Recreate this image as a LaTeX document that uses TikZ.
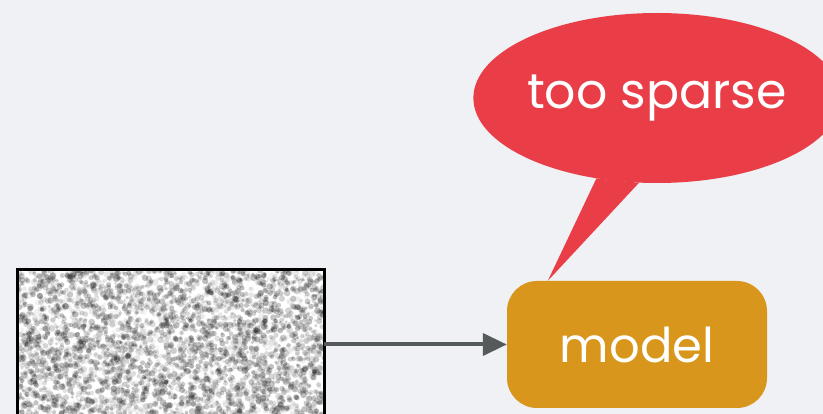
\documentclass[tikz,border=0pt]{standalone}
\usepackage{fontspec}
\setmainfont{Poppins}
\usetikzlibrary{arrows.meta,shapes.geometric,calc}
\definecolor{slidebg}{HTML}{EFF1F4}
\definecolor{alertred}{HTML}{E93E47}
\definecolor{modelgold}{HTML}{D8971C}
\definecolor{arrowgrey}{HTML}{555B5B}

\begin{document}
\begin{tikzpicture}[x=1pt,y=-1pt,
  model/.style={fill=modelgold,rounded corners=30pt,minimum width=260pt,minimum height=127pt,text=white,font=\fontsize{48}{48}\selectfont},
  bubble/.style={ellipse,fill=alertred,inner sep=0pt,minimum width=338pt,minimum height=170pt,text=white,font=\fontsize{49}{49}\selectfont},
  noisy/.style={fill=white,inner sep=0pt,minimum width=306pt,minimum height=160pt},
  ar/.style={-{Triangle[length=24pt,width=22pt]},draw=arrowgrey,line width=4pt}]

\useasboundingbox (0,0) rectangle (823,414);
\clip (0,0) rectangle (823,414);
\fill[slidebg] (0,0) rectangle (823,414);

\node[noisy]  (img)    at (171,350)   {};
\node[model]  (model)  at (637,344.5) {model};
\node[bubble] (bubble) at (657,98)    {too sparse};
\coordinate   (tip)    at ($(model.north west)+(41,0)$);

\begin{scope}
  \clip (img.south west) rectangle (img.north east);
  \pgfmathsetseed{11}
  \foreach \k in {1,...,3600}{
    \pgfmathsetmacro\nx{18+306*rnd}
    \pgfmathsetmacro\ny{270+146*rnd}
    \pgfmathsetmacro\nop{0.04+0.22*rnd}
    \pgfmathsetmacro\nr{1.6+1.8*rnd}
    \fill[black,opacity=\nop] (\nx,\ny) circle (\nr);
  }
\end{scope}
\draw[line width=3pt] (img.south west) rectangle (img.north east);

\fill[alertred] (bubble.233) -- (tip) -- (bubble.258) -- cycle;
\draw[ar] (img.east |- model.west) -- (model.west);
\end{tikzpicture}
\end{document}
